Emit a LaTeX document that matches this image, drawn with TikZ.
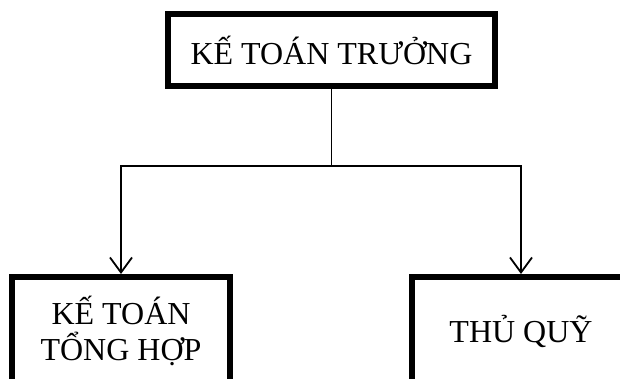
\documentclass[tikz,border=0pt]{standalone}
\usepackage{fontspec}
\setmainfont{Liberation Serif}
\usetikzlibrary{arrows.meta}
\begin{document}
\begin{tikzpicture}[x=1pt,y=-1pt,
  orgbox/.style={draw=black, line width=6pt, fill=white, inner sep=0pt,
    align=center, font=\fontsize{32}{36}\selectfont},
  link/.style={line width=1.8pt},
  linkarrow/.style={link, -{Straight Barb[length=15pt,width=22pt,line width=1.8pt]}}]
  \useasboundingbox (0,0) rectangle (620,378);
  \clip (0,0) rectangle (620,378);
  \fill[white] (0,0) rectangle (620,378);

  % boxes of the chart
  \node[orgbox, minimum width=327pt, minimum height=72pt] (head) at (331.5,50) {KẾ TOÁN TRƯỞNG};
  \node[orgbox, minimum width=218pt, minimum height=108pt] (general) at (121,331) {KẾ TOÁN\\TỔNG HỢP};
  \node[orgbox, minimum width=218pt, minimum height=108pt] (cashier) at (521,331) {THỦ QUỸ};

  % branching connectors
  \coordinate (split) at (331.5,166);
  \draw[link] (head.south) -- (split);
  \draw[linkarrow] (split) -| (general.north);
  \draw[linkarrow] (split) -| (cashier.north);
\end{tikzpicture}
\end{document}
